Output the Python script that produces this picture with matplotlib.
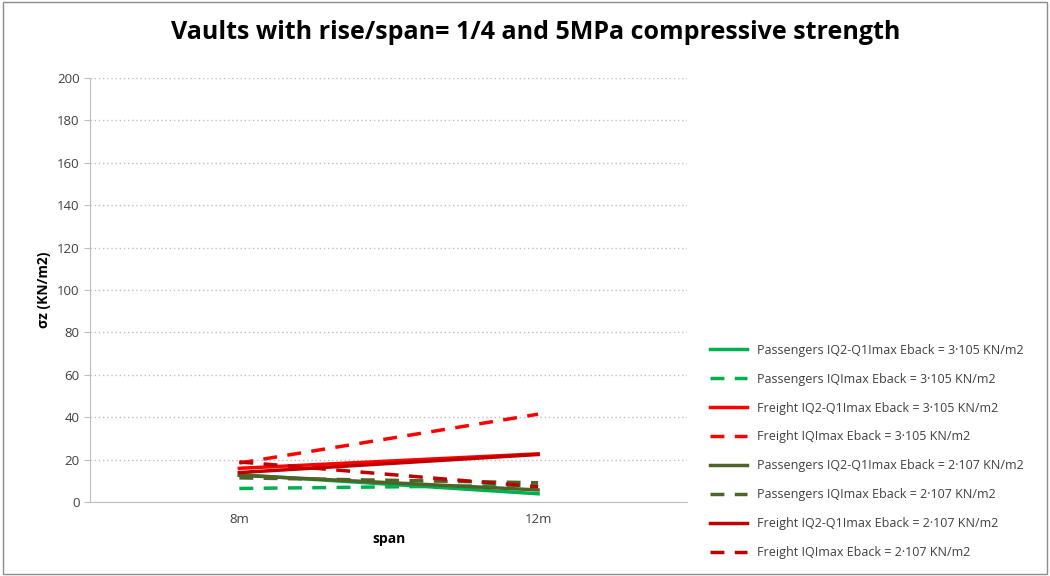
import matplotlib.pyplot as plt

plt.rcParams["font.family"] = ["Open Sans", "DejaVu Sans"]

spans = ["8m", "12m"]

pass_q2q1_3e5 = [13.0, 4.0]
pass_qmax_3e5 = [6.5, 8.0]
freight_q2q1_3e5 = [16.0, 22.8]
freight_qmax_3e5 = [18.5, 41.5]
pass_q2q1_2e7 = [12.7, 5.8]
pass_qmax_2e7 = [11.5, 9.2]
freight_q2q1_2e7 = [14.0, 22.5]
freight_qmax_2e7 = [19.0, 7.3]

labels = [
    "Passengers IQ2-Q1Imax Eback = 3·105 KN/m2",
    "Passengers IQImax Eback = 3·105 KN/m2",
    "Freight IQ2-Q1Imax Eback = 3·105 KN/m2",
    "Freight IQImax Eback = 3·105 KN/m2",
    "Passengers IQ2-Q1Imax Eback = 2·107 KN/m2",
    "Passengers IQImax Eback = 2·107 KN/m2",
    "Freight IQ2-Q1Imax Eback = 2·107 KN/m2",
    "Freight IQImax Eback = 2·107 KN/m2",
]
series = [pass_q2q1_3e5, pass_qmax_3e5, freight_q2q1_3e5, freight_qmax_3e5,
          pass_q2q1_2e7, pass_qmax_2e7, freight_q2q1_2e7, freight_qmax_2e7]
colors = ["#00B050", "#00B050", "#FF0000", "#FF0000",
          "#4F6228", "#4F6228", "#C00000", "#C00000"]
styles = ["-", (0, (4, 3)), "-", (0, (4, 3)), "-", (0, (4, 3)), "-", (0, (4, 3))]

fig = plt.figure(figsize=(10.5, 5.76), dpi=100)
ax = fig.add_axes([0.0857, 0.128, 0.569, 0.737])

x = list(range(len(spans)))
for vals, c, ls, lab in zip(series, colors, styles, labels):
    ax.plot(x, vals, color=c, linestyle=ls, linewidth=2.5, label=lab)

ax.set_xlim(-0.5, 1.5)
ax.set_ylim(0, 200)
ax.set_yticks(range(0, 201, 20))
ax.set_xticks(x)
ax.set_xticklabels(spans)
ax.tick_params(axis="both", labelsize=9.5, colors="#404040")
ax.tick_params(axis="x", length=0, pad=8)
ax.tick_params(axis="y", length=4, color="#bfbfbf")
ax.yaxis.grid(True, linestyle=(0, (1, 2)), color="#bfbfbf", linewidth=1)
ax.set_axisbelow(True)
for s in ["top", "right"]:
    ax.spines[s].set_visible(False)
for s in ["left", "bottom"]:
    ax.spines[s].set_color("#bfbfbf")

ax.set_xlabel("span", fontsize=10, fontweight="bold")
ax.set_ylabel("σz (KN/m2)", fontsize=10, fontweight="bold")

fig.suptitle("Vaults with rise/span= 1/4 and 5MPa compressive strength",
             x=0.51, y=0.965, fontsize=18, fontweight="bold")

fig.legend(loc="lower left", bbox_to_anchor=(0.665, 0.01), frameon=False,
           fontsize=9, handlelength=3.0, labelspacing=1.27, labelcolor="#404040")

fig.patches.append(plt.Rectangle((0.003, 0.003), 0.994, 0.994, transform=fig.transFigure,
                                 fill=False, edgecolor="#8c8c8c", linewidth=1))

fig.savefig("out.png", dpi=100)
